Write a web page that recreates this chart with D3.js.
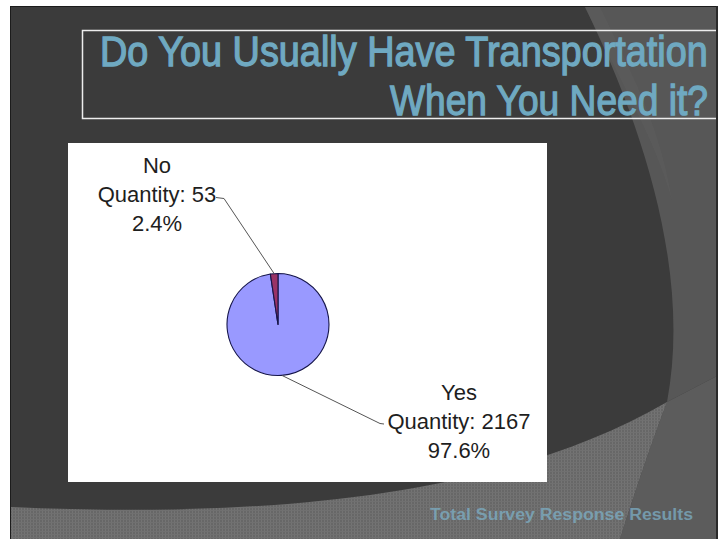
<!DOCTYPE html>
<html>
<head>
<meta charset="utf-8">
<script src="https://cdn.jsdelivr.net/npm/d3@7/dist/d3.min.js"></script>
<style>
  html, body { margin: 0; padding: 0; background: #ffffff; }
  svg { display: block; }
</style>
</head>
<body>
<svg id="chart" width="718" height="539"></svg>
<script>
// ---- data ----
const categories = ["Yes", "No"];
const quantities = [2167, 53];
const sliceColors = ["#9999ff", "#993366"];
const titleLines = ["Do You Usually Have Transportation", "When You Need it?"];
const footerText = "Total Survey Response Results";

const W = 718, H = 539;
const svg = d3.select("#chart");
const defs = svg.append("defs");

// hatch pattern for the bottom band
const pat = defs.append("pattern").attr("id", "hatch")
  .attr("patternUnits", "userSpaceOnUse").attr("width", 3).attr("height", 3);
pat.append("rect").attr("width", 3).attr("height", 3).attr("fill", "#676767");
pat.append("rect").attr("x", 0).attr("y", 0).attr("width", 1).attr("height", 3).attr("fill", "#747474");
pat.append("rect").attr("x", 0).attr("y", 0).attr("width", 3).attr("height", 1).attr("fill", "#707070");

// ---- slide background ----
svg.append("rect").attr("x", 0).attr("y", 0).attr("width", W).attr("height", H).attr("fill", "#ffffff");
svg.append("rect").attr("x", 10.5).attr("y", 6.5).attr("width", W - 12).attr("height", H - 6)
  .attr("fill", "#3b3b3b").attr("stroke", "#1c1c1c").attr("stroke-width", 1);

// right lighter region
svg.append("path")
  .attr("d", "M585,7 C640,120 692,270 667,402 L717,376 L717,7 Z")
  .attr("fill", "#575757");
// faint lighter stripe near top
svg.append("path")
  .attr("d", "M585,7 L600,7 C640,90 660,130 672,200 C655,140 625,90 585,7 Z")
  .attr("fill", "#5e5e5e").attr("opacity", 0.5);
// lower right region
svg.append("path")
  .attr("d", "M667,402 L717,376 L717,539 L620,539 Q645,460 667,402 Z")
  .attr("fill", "#5c5c5c");
// hatched bottom band
svg.append("path")
  .attr("d", "M11,507 C250,518 500,500 667,402 Q645,460 620,539 L11,539 Z")
  .attr("fill", "url(#hatch)");

// ---- title box (runs off the right edge) ----
svg.append("path").attr("d", "M716,30.5 H82.5 V118.5 H716")
  .attr("fill", "none").attr("stroke", "#ededed").attr("stroke-width", 1.5);

const titleFont = "'Liberation Sans Narrow', 'Arial Narrow', 'Liberation Sans', Arial, sans-serif";
function condensedText(str, x, y, targetWidth) {
  const gT = svg.append("g");
  const t = gT.append("text").attr("x", 0).attr("y", 0)
    .attr("font-family", titleFont).attr("font-size", 42)
    .attr("fill", "#6fa9c1").attr("stroke", "#6fa9c1").attr("stroke-width", 1.3)
    .text(str);
  const natural = t.node().getComputedTextLength();
  const sx = Math.min(1, targetWidth / natural);
  gT.attr("transform", `translate(${x},${y}) scale(${sx},1)`);
}
condensedText(titleLines[0], 100, 66, 608);
condensedText(titleLines[1], 390, 115, 318);

// right slide edge
svg.append("line").attr("x1", 717).attr("x2", 717).attr("y1", 6).attr("y2", H)
  .attr("stroke", "#2a2a2a").attr("stroke-width", 2);

// ---- chart panel ----
svg.append("rect").attr("x", 68).attr("y", 143).attr("width", 479).attr("height", 339)
  .attr("fill", "#ffffff");

const cx = 278, cy = 324.5, r = 51;
const total = d3.sum(quantities);
const data = categories.map((c, i) => ({ name: c, value: quantities[i], color: sliceColors[i] }));

const pie = d3.pie().value(d => d.value).sort(null).startAngle(0).endAngle(2 * Math.PI);
const arcs = pie(data);
const arc = d3.arc().innerRadius(0).outerRadius(r);
const edgeArc = d3.arc().innerRadius(r).outerRadius(r);

const g = svg.append("g").attr("transform", `translate(${cx},${cy})`);
g.selectAll("path.slice").data(arcs).join("path")
  .attr("class", "slice")
  .attr("d", arc)
  .attr("fill", d => d.data.color)
  .attr("stroke", "#15154a").attr("stroke-width", 1.1).attr("stroke-linejoin", "round");

// labels
const fmtPct = d3.format(".1%");
const labelFont = "'Liberation Sans', Arial, sans-serif";
const labelLayout = {
  "No":  { x: 157, y: 173, elbow: [-54, -126], tick: [-62, -127] },
  "Yes": { x: 459, y: 400, elbow: [102, 99], tick: [106, 99.5] }
};

arcs.forEach(a => {
  const L = labelLayout[a.data.name];
  const p = edgeArc.centroid(a);
  const pts = [[cx + p[0], cy + p[1]], [cx + L.elbow[0], cy + L.elbow[1]], [cx + L.tick[0], cy + L.tick[1]]];
  svg.append("path")
    .attr("d", d3.line()(pts))
    .attr("fill", "none").attr("stroke", "#555555").attr("stroke-width", 1);

  const t = svg.append("text")
    .attr("font-family", labelFont).attr("font-size", 22)
    .attr("fill", "#1e1e1e").attr("text-anchor", "middle");
  const lines = [a.data.name, "Quantity: " + a.data.value, fmtPct(a.data.value / total)];
  lines.forEach((s, i) => {
    t.append("tspan").attr("x", L.x).attr("y", L.y + i * 29).text(s);
  });
});

// ---- footer ----
svg.append("text").attr("x", 430).attr("y", 520)
  .attr("font-family", "'Liberation Sans', Arial, sans-serif")
  .attr("font-size", 16).attr("font-weight", "bold")
  .attr("fill", "#7fb3cb").attr("opacity", 0.7)
  .attr("textLength", 263).attr("lengthAdjust", "spacingAndGlyphs")
  .text(footerText);
</script>
</body>
</html>
